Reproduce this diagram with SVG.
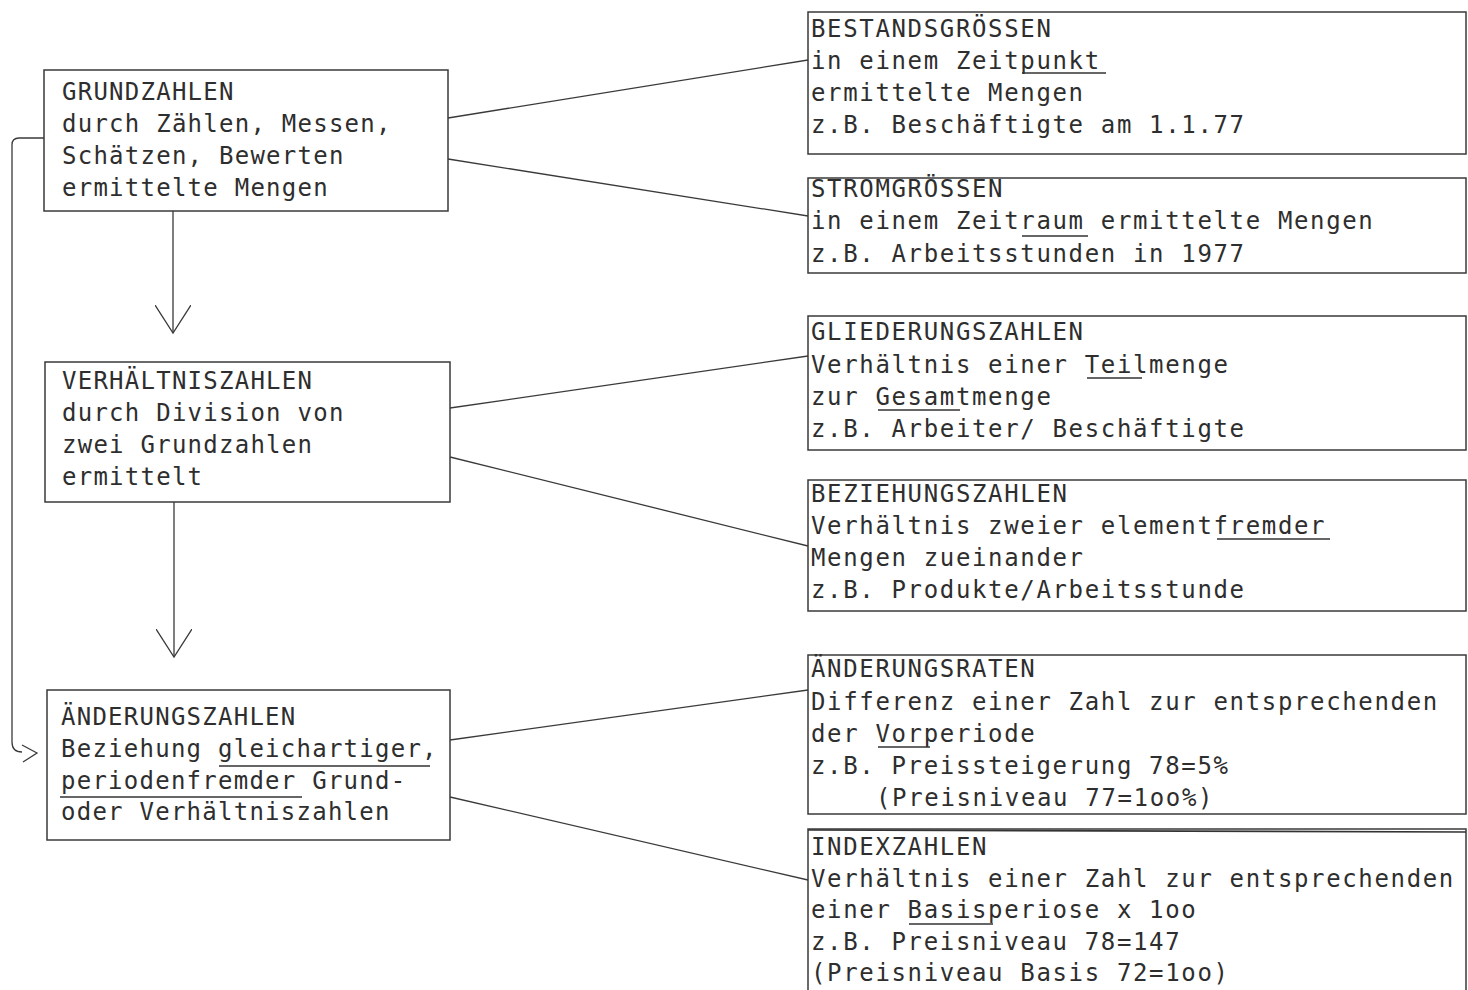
<svg xmlns="http://www.w3.org/2000/svg" width="1468" height="990" viewBox="0 0 1468 990">
<style>
.box{fill:none;stroke:#3a3a3a;stroke-width:1.5}
.ln{fill:none;stroke:#3a3a3a;stroke-width:1.3}
.ul{fill:none;stroke:#333;stroke-width:1.6}
text{font-family:"DejaVu Sans Mono","Liberation Mono",monospace;fill:#2e2e2e}
.l{font-size:24px;letter-spacing:1.25px}
.r{font-size:24px;letter-spacing:1.65px}
</style>
<defs>
<marker id="vhead" markerUnits="userSpaceOnUse" viewBox="0 0 30 36" markerWidth="30" markerHeight="36" refX="28" refY="18" orient="auto">
<path d="M0,0 L28,18 L0,36" fill="none" stroke="#3a3a3a" stroke-width="1.3"/>
</marker>
</defs>
<rect width="1468" height="990" fill="#ffffff"/>

<g id="connectors">
<line class="ln" x1="173" y1="211" x2="173" y2="333" marker-end="url(#vhead)"/>
<line class="ln" x1="174" y1="502" x2="174" y2="657" marker-end="url(#vhead)"/>
<path class="ln" d="M44,138 L19,138 Q12,138 12,145 L12,742 Q12,752 22,752"/>
<path class="ln" d="M22,745 L37,753 L23,762"/>
<line class="ln" x1="448" y1="118" x2="808" y2="60"/>
<line class="ln" x1="448" y1="159" x2="808" y2="216"/>
<line class="ln" x1="450" y1="408" x2="808" y2="356"/>
<line class="ln" x1="450" y1="457" x2="808" y2="546"/>
<line class="ln" x1="450" y1="740" x2="808" y2="690"/>
<line class="ln" x1="450" y1="797" x2="808" y2="880"/>
</g>

<g id="grundzahlen">
<rect class="box" x="44" y="70" width="404" height="141"/>
<text class="l" x="62" y="100">GRUNDZAHLEN</text>
<text class="l" x="62" y="132">durch Zählen, Messen,</text>
<text class="l" x="62" y="164">Schätzen, Bewerten</text>
<text class="l" x="62" y="196">ermittelte Mengen</text>
</g>

<g id="verhaeltniszahlen">
<rect class="box" x="45" y="362" width="405" height="140"/>
<text class="l" x="62" y="389">VERHÄLTNISZAHLEN</text>
<text class="l" x="62" y="421">durch Division von</text>
<text class="l" x="62" y="453">zwei Grundzahlen</text>
<text class="l" x="62" y="485">ermittelt</text>
</g>

<g id="aenderungszahlen">
<rect class="box" x="47" y="690" width="403" height="150"/>
<text class="l" x="61" y="725">ÄNDERUNGSZAHLEN</text>
<text class="l" x="61" y="757">Beziehung gleichartiger,</text>
<text class="l" x="61" y="789">periodenfremder Grund-</text>
<text class="l" x="61" y="820">oder Verhältniszahlen</text>
<line class="ul" x1="219" y1="766" x2="430" y2="766"/>
<line class="ul" x1="60" y1="797" x2="302" y2="797"/>
</g>

<g id="bestandsgroessen">
<rect class="box" x="808" y="12" width="658" height="142"/>
<text class="r" x="811" y="37">BESTANDSGRÖSSEN</text>
<text class="r" x="811" y="69">in einem Zeitpunkt</text>
<text class="r" x="811" y="101">ermittelte Mengen</text>
<text class="r" x="811" y="133">z.B. Beschäftigte am 1.1.77</text>
<line class="ul" x1="1022" y1="73" x2="1106" y2="73"/>
</g>

<g id="stromgroessen">
<rect class="box" x="808" y="178" width="658" height="95"/>
<text class="r" x="811" y="197">STROMGRÖSSEN</text>
<text class="r" x="811" y="229">in einem Zeitraum ermittelte Mengen</text>
<text class="r" x="811" y="262">z.B. Arbeitsstunden in 1977</text>
<line class="ul" x1="1022" y1="236" x2="1088" y2="236"/>
</g>

<g id="gliederungszahlen">
<rect class="box" x="808" y="316" width="658" height="134"/>
<text class="r" x="811" y="340">GLIEDERUNGSZAHLEN</text>
<text class="r" x="811" y="373">Verhältnis einer Teilmenge</text>
<text class="r" x="811" y="405">zur Gesamtmenge</text>
<text class="r" x="811" y="437">z.B. Arbeiter/ Beschäftigte</text>
<line class="ul" x1="1087" y1="378" x2="1142" y2="378"/>
<line class="ul" x1="878" y1="410" x2="960" y2="410"/>
</g>

<g id="beziehungszahlen">
<rect class="box" x="808" y="480" width="658" height="131"/>
<text class="r" x="811" y="502">BEZIEHUNGSZAHLEN</text>
<text class="r" x="811" y="534">Verhältnis zweier elementfremder</text>
<text class="r" x="811" y="566">Mengen zueinander</text>
<text class="r" x="811" y="598">z.B. Produkte/Arbeitsstunde</text>
<line class="ul" x1="1217" y1="539" x2="1330" y2="539"/>
</g>

<g id="aenderungsraten">
<rect class="box" x="808" y="655" width="658" height="159"/>
<text class="r" x="811" y="677">ÄNDERUNGSRATEN</text>
<text class="r" x="811" y="710">Differenz einer Zahl zur entsprechenden</text>
<text class="r" x="811" y="742">der Vorperiode</text>
<text class="r" x="811" y="774">z.B. Preissteigerung 78=5%</text>
<text class="r" x="876" y="806">(Preisniveau 77=1oo%)</text>
<line class="ul" x1="878" y1="747" x2="930" y2="747"/>
</g>

<g id="indexzahlen">
<rect class="box" x="808" y="829" width="658" height="170"/>
<line class="ul" x1="808" y1="830" x2="1466" y2="832"/>
<text class="r" x="811" y="855">INDEXZAHLEN</text>
<text class="r" x="811" y="887">Verhältnis einer Zahl zur entsprechenden</text>
<text class="r" x="811" y="918">einer Basisperiose x 1oo</text>
<text class="r" x="811" y="950">z.B. Preisniveau 78=147</text>
<text class="r" x="811" y="981">(Preisniveau Basis 72=1oo)</text>
<line class="ul" x1="909" y1="924" x2="993" y2="924"/>
</g>
</svg>
